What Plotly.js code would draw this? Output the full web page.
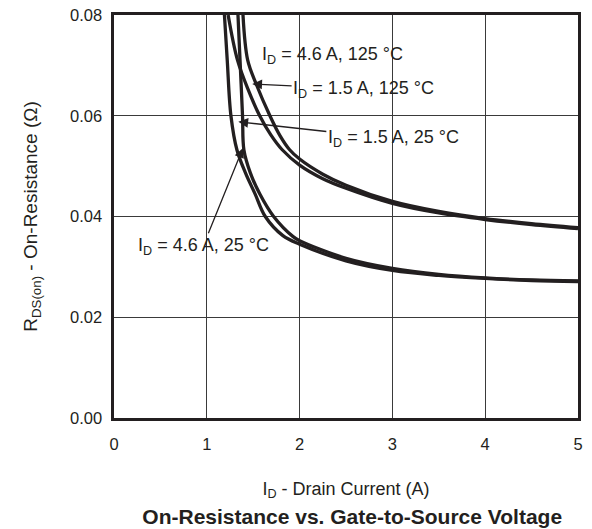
<!DOCTYPE html>
<html>
<head>
<meta charset="utf-8">
<script src="https://cdn.plot.ly/plotly-3.0.1.min.js"></script>
<style>
html,body{margin:0;padding:0;background:#fff;}
#chart{width:592px;height:529px;}
</style>
</head>
<body>
<div id="chart"></div>
<script>
// Curve data (x = drain current axis, y = on-resistance in ohm)
const id15_25_x  = [1.19, 1.22, 1.26, 1.325, 1.42, 1.52, 1.63, 1.82, 2.00, 2.50, 3.00, 3.50, 4.00, 4.50, 5.00];
const id15_25_y  = [0.080, 0.0711, 0.060, 0.0532, 0.0485, 0.0445, 0.0400, 0.0362, 0.0345, 0.0312, 0.0293, 0.0283, 0.0277, 0.0273, 0.0271];
const id46_25_x  = [1.336, 1.358, 1.385, 1.40, 1.47, 1.57, 1.72, 1.93, 2.00, 2.50, 3.00, 3.50, 4.00, 4.50, 5.00];
const id46_25_y  = [0.080, 0.0711, 0.060, 0.0532, 0.0486, 0.0445, 0.0400, 0.0360, 0.0352, 0.0317, 0.0297, 0.0285, 0.0278, 0.0274, 0.0272];
const id15_125_x = [1.23, 1.33, 1.45, 1.57, 1.69, 1.81, 2.00, 2.25, 2.50, 3.00, 3.50, 4.00, 4.50, 5.00];
const id15_125_y = [0.080, 0.0711, 0.0650, 0.060, 0.0562, 0.0533, 0.0502, 0.0475, 0.0456, 0.0426, 0.0407, 0.0394, 0.0384, 0.0376];
const id46_125_x = [1.39, 1.44, 1.53, 1.68, 1.79, 1.89, 2.00, 2.25, 2.50, 3.00, 3.50, 4.00, 4.50, 5.00];
const id46_125_y = [0.080, 0.0711, 0.0664, 0.060, 0.0560, 0.0533, 0.0514, 0.0484, 0.0462, 0.0430, 0.0410, 0.0396, 0.0386, 0.0378];

const xTicks = [0, 1, 2, 3, 4, 5];
const yTicks = [0.00, 0.02, 0.04, 0.06, 0.08];
const yTickText = ['0.00', '0.02', '0.04', '0.06', '0.08'];

const labelTexts = ['I<sub>D</sub> = 4.6 A, 125 °C', 'I<sub>D</sub> = 1.5 A, 125 °C', 'I<sub>D</sub> = 1.5 A, 25 °C', 'I<sub>D</sub> = 4.6 A, 25 °C'];
const labelX = [2.35, 2.69, 3.01, 0.96];
const labelY = [0.0719, 0.0653, 0.0554, 0.0341];
const arrowX = [null, 1.49, 1.34, 1.39];
const arrowY = [null, 0.0663, 0.0588, 0.0536];

const FONT = 'Liberation Sans, Arial, Helvetica, sans-serif';
const INK = '#231f20';

function curve(x, y, name) {
  return {
    x: x, y: y, name: name, type: 'scatter', mode: 'lines',
    line: {color: INK, width: 3.3, shape: 'spline', smoothing: 1.0},
    hoverinfo: 'skip', showlegend: false, cliponaxis: true
  };
}

const data = [
  curve(id15_25_x, id15_25_y, 'ID = 1.5 A, 25 °C'),
  curve(id46_25_x, id46_25_y, 'ID = 4.6 A, 25 °C'),
  curve(id15_125_x, id15_125_y, 'ID = 1.5 A, 125 °C'),
  curve(id46_125_x, id46_125_y, 'ID = 4.6 A, 125 °C')
];

const annotations = labelTexts.map(function (t, i) {
  if (arrowX[i] === null) {
    return {text: t, x: labelX[i], y: labelY[i], xref: 'x', yref: 'y', showarrow: false,
            xanchor: 'center', yanchor: 'middle', font: {family: FONT, size: 18, color: INK}};
  }
  return {text: t, x: arrowX[i], y: arrowY[i], xref: 'x', yref: 'y',
          ax: labelX[i], ay: labelY[i], axref: 'x', ayref: 'y',
          showarrow: true, arrowhead: 2, arrowsize: 1.5, arrowwidth: 1.3, arrowcolor: INK, standoff: 0,
          font: {family: FONT, size: 18, color: INK}};
});

const layout = {
  width: 592, height: 529,
  margin: {l: 114, r: 14, t: 15, b: 111, pad: 0},
  paper_bgcolor: '#ffffff', plot_bgcolor: '#ffffff',
  font: {family: FONT, size: 16, color: INK},
  showlegend: false,
  title: {
    text: '<b>On-Resistance vs. Gate-to-Source Voltage</b>',
    font: {family: FONT, size: 21, color: INK},
    xref: 'container', yref: 'container', x: 0.595, y: 0.0227, xanchor: 'center', yanchor: 'middle'
  },
  xaxis: {
    range: [0, 5], tickvals: xTicks, ticktext: xTicks.map(String),
    showgrid: true, gridcolor: '#3a3a3a', gridwidth: 1.1,
    showline: true, mirror: true, linecolor: INK, linewidth: 2.6,
    zeroline: false, ticks: '', ticklabelstandoff: 10,
    tickfont: {family: FONT, size: 16.5, color: INK},
    title: {text: 'I<sub>D</sub> - Drain Current (A)', font: {family: FONT, size: 18, color: INK}, standoff: 30},
    fixedrange: true
  },
  yaxis: {
    range: [0, 0.08], tickvals: yTicks, ticktext: yTickText,
    showgrid: true, gridcolor: '#3a3a3a', gridwidth: 1.1,
    showline: true, mirror: true, linecolor: INK, linewidth: 2.6,
    zeroline: false, ticks: '', ticklabelstandoff: 6,
    tickfont: {family: FONT, size: 16.5, color: INK},
    title: {text: 'R<sub>DS(on)</sub> - On-Resistance (Ω)', font: {family: FONT, size: 19, color: INK}, standoff: 28},
    fixedrange: true
  },
  annotations: annotations
};

Plotly.newPlot('chart', data, layout, {staticPlot: true, displayModeBar: false});
</script>
</body>
</html>
